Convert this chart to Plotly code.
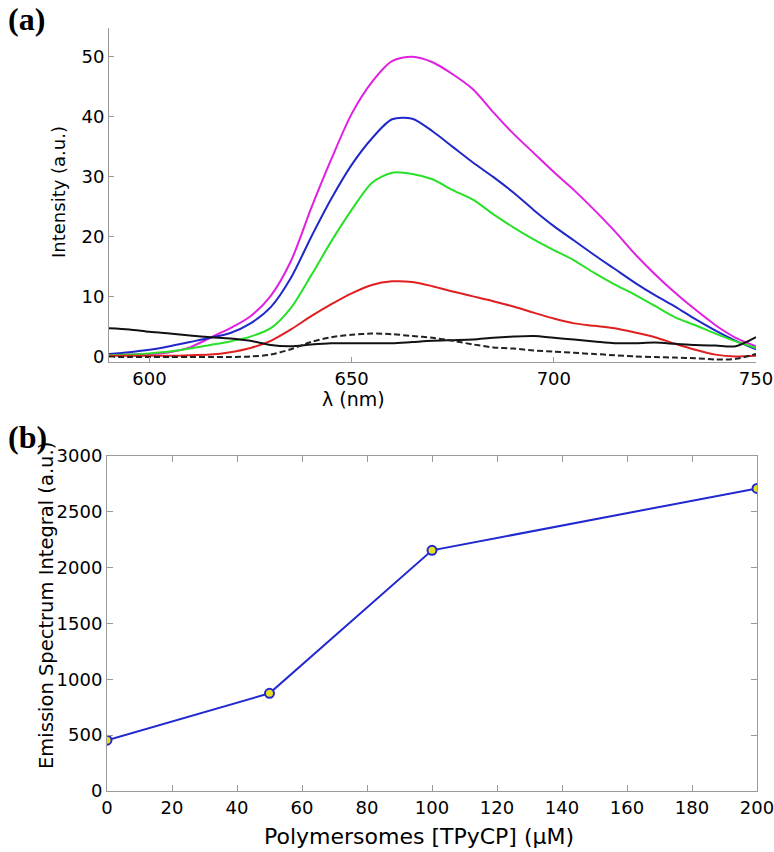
# Emission spectra (a) and integrated emission vs polymersome concentration (b)

import plotly.graph_objects as go

W, H = 774, 852

# (a) emission spectra, wavelength in nm
wavelength = [590, 595, 600, 605, 610, 615, 620, 625, 630, 635, 640, 645, 650,
              655, 660, 665, 670, 675, 680, 685, 690, 695, 700, 705, 710, 715,
              720, 725, 730, 735, 740, 745, 750]

magenta_int = [0.3, 0.4, 0.5, 0.8, 1.6, 3.2, 4.8, 6.8, 10.2, 16.0, 24.8, 33.0, 40.5,
               45.8, 49.3, 50.0, 49.1, 47.1, 44.6, 40.8, 37.2, 34.0, 30.8, 27.8, 24.5,
               21.0, 17.2, 13.8, 10.7, 7.9, 5.3, 3.2, 1.8]
blue_int = [0.5, 0.8, 1.2, 1.8, 2.5, 3.2, 4.0, 5.6, 8.3, 13.2, 20.0, 26.4, 32.0,
            36.4, 39.6, 39.7, 37.6, 35.0, 32.4, 30.0, 27.4, 24.5, 21.8, 19.4, 17.0,
            14.7, 12.4, 10.3, 8.4, 6.3, 4.4, 2.7, 1.3]
green_int = [0.3, 0.4, 0.6, 0.9, 1.4, 2.0, 2.6, 3.4, 4.8, 8.2, 13.6, 19.3, 24.5,
             29.0, 30.7, 30.5, 29.6, 27.8, 26.2, 23.8, 21.6, 19.6, 17.8, 16.1, 14.0,
             12.1, 10.4, 8.5, 6.6, 5.3, 3.9, 2.6, 1.5]
red_int = [0.2, 0.2, 0.2, 0.2, 0.3, 0.4, 0.8, 1.5, 2.7, 4.6, 6.8, 8.8, 10.6,
           12.0, 12.6, 12.5, 11.8, 10.9, 10.1, 9.3, 8.4, 7.4, 6.4, 5.6, 5.2,
           4.8, 4.1, 3.3, 2.2, 1.2, 0.4, 0.1, 0.2]
black_int = [4.8, 4.6, 4.2, 3.9, 3.6, 3.3, 3.1, 2.7, 2.0, 1.8, 2.1, 2.3, 2.3,
             2.3, 2.3, 2.5, 2.7, 2.8, 2.9, 3.2, 3.4, 3.5, 3.2, 2.9, 2.6,
             2.3, 2.3, 2.4, 2.2, 2.0, 1.9, 1.8, 3.3]
dashed_int = [0.0, 0.0, 0.0, 0.0, 0.0, 0.0, 0.0, 0.1, 0.4, 1.3, 2.5, 3.3, 3.7,
              3.9, 3.8, 3.5, 3.2, 2.7, 2.1, 1.6, 1.4, 1.1, 0.9, 0.7, 0.5,
              0.3, 0.1, 0.0, -0.1, -0.2, -0.4, -0.3, 0.5]

# (b) emission spectrum integral
conc_uM = [0, 50, 100, 200]
integral = [455, 875, 2155, 2710]


def px(x):
    # page pixel -> paper x
    return x / W


def py(y):
    # page pixel -> paper y
    return 1 - y / H


font_family = "DejaVu Sans, Arial, sans-serif"
axis_grey = "#9a9a9a"

fig = go.Figure()

spectra = [
    (magenta_int, "#e020e0", "solid"),
    (blue_int, "#2028c8", "solid"),
    (green_int, "#28e028", "solid"),
    (red_int, "#e02020", "solid"),
    (black_int, "#111111", "solid"),
    (dashed_int, "#222222", "6px,3px"),
]
for vals, col, dash in spectra:
    fig.add_trace(go.Scatter(x=wavelength, y=vals, mode="lines",
                             line=dict(color=col, width=2, dash=dash, shape="spline",
                                       smoothing=0.8),
                             xaxis="x", yaxis="y", showlegend=False))

fig.add_trace(go.Scatter(x=conc_uM, y=integral, mode="lines+markers",
                         line=dict(color="#2028d0", width=2),
                         marker=dict(size=9, color="#e8e020",
                                     line=dict(color="#2028d0", width=2)),
                         xaxis="x2", yaxis="y2", showlegend=False))

tickfont = dict(family=font_family, size=18, color="black")
common = dict(tickcolor=axis_grey, showline=True, linecolor=axis_grey,
              showgrid=False, zeroline=False, tickfont=tickfont, automargin=False,
              ticklabeloverflow="allow")

fig.update_layout(
    width=W, height=H,
    margin=dict(l=0, r=0, t=0, b=0, pad=0),
    paper_bgcolor="white", plot_bgcolor="white",
    xaxis=dict(domain=[px(109), px(756)], range=[590, 750],
               tickvals=[600, 650, 700, 750], ticks="inside", ticklen=5,
               anchor="y", **common),
    yaxis=dict(domain=[py(362), py(28)], range=[-0.83, 54.8],
               tickvals=[0, 10, 20, 30, 40, 50], ticks="inside", ticklen=5,
               anchor="x", **common),
    xaxis2=dict(domain=[px(107), px(757)], range=[0, 200], dtick=20,
                ticks="inside", ticklen=6, mirror="allticks",
                anchor="y2", **common),
    yaxis2=dict(domain=[py(791), py(456)], range=[0, 3000], dtick=500,
                ticks="inside", ticklen=6, mirror="allticks",
                anchor="x2", **common),
)

label_font = dict(family="Liberation Serif, Times New Roman, serif", size=32, color="black")

annotations = [
    dict(text="<b>(a)</b>", x=px(26), y=py(19), font=label_font),
    dict(text="<b>(b)</b>", x=px(28), y=py(437), font=label_font),
    dict(text="Intensity (a.u.)", x=px(58), y=py(192), textangle=-90,
         font=dict(family=font_family, size=18, color="black")),
    dict(text="λ (nm)", x=px(353), y=py(399),
         font=dict(family=font_family, size=19, color="black")),
    dict(text="Emission Spectrum Integral (a.u.)", x=px(46), y=py(606), textangle=-90,
         font=dict(family=font_family, size=19.5, color="black")),
    dict(text="Polymersomes [TPyCP] (μM)", x=px(419), y=py(836),
         font=dict(family=font_family, size=22, color="black")),
]
for a in annotations:
    fig.add_annotation(xref="paper", yref="paper", showarrow=False,
                       xanchor="center", yanchor="middle", **a)

# the default page body has an 8px margin, which would push the fixed-size figure off the window
fig.write_html("out.html", config={"displayModeBar": False},
               post_script="document.body.style.margin='0';")
